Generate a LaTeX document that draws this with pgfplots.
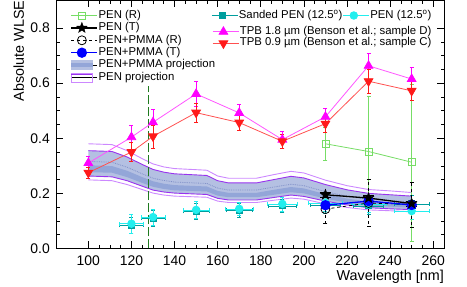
\documentclass[border=0pt]{standalone}
\usepackage{pgfplots}
\pgfplotsset{compat=1.18}
\usepackage{pgfplotstable}
\usepgfplotslibrary{fillbetween}
\usetikzlibrary{plotmarks}
\usepackage{fontspec}
\setmainfont{Liberation Sans}

\definecolor{gR}{HTML}{77DD66}
\definecolor{gLine}{HTML}{1F7A1F}
\definecolor{cyanP}{HTML}{22EEEE}
\definecolor{tealP}{HTML}{009E9E}
\definecolor{magP}{HTML}{FF00FF}
\definecolor{magL}{HTML}{FF55FF}
\definecolor{redP}{HTML}{FF1A1A}
\definecolor{redL}{HTML}{FF5050}
\definecolor{blueP}{HTML}{0000FF}
\definecolor{bandA}{HTML}{B4C0E2}
\definecolor{bandB}{HTML}{93A6D8}
\definecolor{bandDot}{HTML}{8090C8}
\definecolor{vioL}{HTML}{CC88FF}
\definecolor{vioD}{HTML}{9933EE}

\pgfdeclareplotmark{fivestar}{%
  \pgfpathmoveto{\pgfpointpolar{90}{\pgfplotmarksize}}%
  \pgfpathlineto{\pgfpointpolar{126}{0.42\pgfplotmarksize}}%
  \pgfpathlineto{\pgfpointpolar{162}{\pgfplotmarksize}}%
  \pgfpathlineto{\pgfpointpolar{198}{0.42\pgfplotmarksize}}%
  \pgfpathlineto{\pgfpointpolar{234}{\pgfplotmarksize}}%
  \pgfpathlineto{\pgfpointpolar{270}{0.42\pgfplotmarksize}}%
  \pgfpathlineto{\pgfpointpolar{306}{\pgfplotmarksize}}%
  \pgfpathlineto{\pgfpointpolar{342}{0.42\pgfplotmarksize}}%
  \pgfpathlineto{\pgfpointpolar{18}{\pgfplotmarksize}}%
  \pgfpathlineto{\pgfpointpolar{54}{0.42\pgfplotmarksize}}%
  \pgfpathclose
  \pgfusepathqfillstroke}

\pgfplotsset{
  legend image code/.code={%
    \path (0bp,0bp) -- (26bp,0bp);
    \draw[mark repeat=2,mark phase=2,#1] plot coordinates {(0bp,0bp) (10.5bp,0bp) (21bp,0bp)};},
  pmmaleg/.style={legend image code/.code={%
    \path (0bp,0bp) -- (26bp,0bp);
    \fill[bandA] (0bp,-4.5bp) rectangle (21bp,4.5bp);
    \fill[bandB] (0bp,-1.5bp) rectangle (21bp,1.5bp);}},
  penleg/.style={legend image code/.code={%
    \path (0bp,0bp) -- (26bp,0bp);
    \draw[vioL, line width=0.8bp] (0bp,-4.5bp) rectangle (21bp,4.5bp);
    \draw[vioD, line width=0.8bp] (0bp,3bp) -- (21bp,3bp);}},
  rootaxis/.style={
    width=388bp, height=248bp, scale only axis,
    xmin=85, xmax=265, ymin=0, ymax=0.9,
  },
  rootleg/.style={
    legend cell align=left,
    legend style={draw=none, fill=none, inner sep=0pt, outer sep=0pt,
      column sep=0pt, row sep=0pt,
      font=\fontsize{11.4}{13}\selectfont,
      nodes={inner sep=0.6bp, text height=#1, text depth=2.8bp}},
  },
}

\pgfplotstableread{
x    lu    u     d     bt    bb    l     ll
100  0.380 0.355 0.316 0.302 0.277 0.263 0.249
111  0.377 0.352 0.313 0.299 0.275 0.260 0.246
118  0.355 0.332 0.295 0.282 0.259 0.246 0.232
125  0.326 0.305 0.271 0.259 0.238 0.226 0.214
130  0.307 0.287 0.255 0.244 0.224 0.212 0.201
135  0.296 0.277 0.247 0.235 0.216 0.205 0.194
140  0.290 0.271 0.241 0.230 0.211 0.201 0.190
155  0.284 0.265 0.236 0.225 0.207 0.196 0.186
160  0.263 0.246 0.219 0.209 0.192 0.182 0.172
165  0.255 0.238 0.212 0.202 0.186 0.176 0.167
178  0.255 0.238 0.212 0.202 0.186 0.176 0.167
186  0.268 0.250 0.223 0.213 0.195 0.185 0.175
194  0.280 0.262 0.233 0.223 0.204 0.194 0.183
200  0.274 0.256 0.228 0.218 0.200 0.189 0.179
210  0.248 0.232 0.206 0.197 0.181 0.172 0.162
220  0.228 0.213 0.190 0.181 0.166 0.158 0.149
230  0.214 0.200 0.178 0.170 0.156 0.148 0.140
240  0.209 0.195 0.174 0.166 0.152 0.144 0.137
250  0.203 0.190 0.169 0.162 0.148 0.141 0.133
}\band

\begin{document}
\begin{tikzpicture}
\begin{axis}[
  rootaxis,
  axis line style={line width=0.8bp},
  tick align=inside,
  xtick={100,120,...,260}, minor x tick num=3,
  ytick={0,0.2,0.4,0.6,0.8}, minor y tick num=3,
  major tick length=7bp, minor tick length=3.5bp,
  tick style={black, line width=0.6bp},
  /pgf/number format/assume math mode=true,
  every tick label/.append style={font=\fontsize{14}{16}\selectfont},
  yticklabel style={/pgf/number format/fixed, /pgf/number format/fixed zerofill,
     /pgf/number format/precision=1, anchor=east, inner sep=0pt, xshift=-6bp},
  xticklabel style={anchor=north, inner sep=0pt, yshift=-7bp},
  xlabel={Wavelength [nm]},
  ylabel={Absolute WLSE},
  label style={font=\fontsize{14.4}{16}\selectfont, inner sep=0pt},
  xlabel style={at={(axis description cs:1,-0.1129)}, anchor=east},
  ylabel style={at={(axis description cs:-0.0962,1)}, anchor=east},
  rootleg=8.4bp,
  legend style={at={(rel axis cs:0.038,0.9645)}, anchor=north west},
]
\coordinate (BL) at (rel axis cs:0,0);
\coordinate (TR) at (rel axis cs:1,1);

% projections
\addplot[forget plot, name path=U, draw=none] table[x=x,y=u]{\band};
\addplot[forget plot, name path=L, draw=none] table[x=x,y=l]{\band};
\addplot[forget plot, name path=BT, draw=none] table[x=x,y=bt]{\band};
\addplot[forget plot, name path=BB, draw=none] table[x=x,y=bb]{\band};
\addplot[forget plot, bandA] fill between[of=U and L];
\addplot[forget plot, bandB] fill between[of=BT and BB];
\addplot[forget plot, bandDot, densely dotted, line width=0.8bp] table[x=x,y=d]{\band};
\addplot[forget plot, vioD, line width=0.9bp] table[x=x,y=u]{\band};
\addplot[forget plot, vioD, line width=0.9bp] table[x=x,y=l]{\band};
\addplot[forget plot, vioL, line width=0.9bp] table[x=x,y=lu]{\band};
\addplot[forget plot, vioL, line width=0.9bp] table[x=x,y=ll]{\band};

% vertical line
\addplot[forget plot, gLine, line width=1.2bp, dash pattern=on 9bp off 3bp]
  coordinates {(128,0) (128,0.59)};

% Sanded PEN (12.5)
\addplot[forget plot, tealP, only marks, mark=square*, mark size=3bp, line width=0.8bp,
  error bars/.cd, x dir=both, x explicit, y dir=both, y explicit,
  error mark options={rotate=90, mark size=2bp, tealP}]
coordinates {
(120,0.085) +- (5.5,0.03)
(130,0.110) +- (5.5,0.03)
(150,0.135) +- (6,0.03)
(170,0.140) +- (6,0.025)
(190,0.155) +- (6.5,0.025)
(210,0.158) +- (7,0.03)
(230,0.155) +- (7,0.03)
(250,0.162) +- (8,0.03)
};
% PEN (12.5)
\addplot[forget plot, cyanP, only marks, mark=*, mark size=3.8bp, line width=0.8bp,
  error bars/.cd, x dir=both, x explicit, y dir=both, y explicit,
  error mark options={rotate=90, mark size=2bp, cyanP}]
coordinates {
(120,0.090) +- (5.5,0.034)
(130,0.114) +- (5.5,0.03)
(150,0.140) +- (6,0.03)
(170,0.144) +- (6.5,0.025)
(190,0.162) +- (7,0.025)
(210,0.166) +- (8,0.03)
(230,0.160) +- (8,0.03)
(250,0.136) +- (8,0.03)
};

% PEN (R)
\addplot[forget plot, gR, mark=square, mark size=3.5bp, line width=0.8bp,
  error bars/.cd, y dir=both, y explicit,
  error mark options={rotate=90, mark size=2bp, gR}]
coordinates {
(210,0.380) +- (0,0.06)
(230,0.352) +- (0,0.20)
(250,0.313) +- (0,0.285)
};

% TPB 1.8
\addplot[forget plot, magL, mark=triangle*, mark options={magP, fill=magP}, mark size=5bp, line width=0.8bp,
  error bars/.cd, y dir=both, y explicit,
  error bar style={magP},
  error mark options={rotate=90, mark size=2bp, magP}]
coordinates {
(100,0.310) +- (0,0.025)
(120,0.404) +- (0,0.043)
(130,0.458) +- (0,0.046)
(150,0.561) +- (0,0.046)
(170,0.492) +- (0,0.031)
(190,0.395) +- (0,0.03)
(210,0.478) +- (0,0.03)
(230,0.663) +- (0,0.047)
(250,0.615) +- (0,0.044)
};
% TPB 0.9
\addplot[forget plot, redL, mark=triangle*, mark options={redP, fill=redP, rotate=180}, mark size=5bp, line width=0.8bp,
  error bars/.cd, y dir=both, y explicit,
  error bar style={redP},
  error mark options={rotate=90, mark size=2bp, redP}]
coordinates {
(100,0.275) +- (0,0.02)
(120,0.350) +- (0,0.035)
(130,0.407) +- (0,0.042)
(150,0.493) +- (0,0.036)
(170,0.457) +- (0,0.028)
(190,0.389) +- (0,0.025)
(210,0.453) +- (0,0.03)
(230,0.607) +- (0,0.045)
(250,0.572) +- (0,0.035)
};

% PEN+PMMA (R)
\addplot[forget plot, black, dashed, mark=o, mark options={solid}, mark size=4.5bp, line width=0.8bp,
  error bars/.cd, y dir=both, y explicit,
  error mark options={rotate=90, mark size=2bp, black}]
coordinates {
(210,0.143) +- (0,0.05)
(230,0.165) +- (0,0.085)
(250,0.160) +- (0,0.082)
};
% PEN+PMMA (T)
\addplot[forget plot, blueP, mark=*, mark size=4.5bp, line width=1.3bp,
  error bars/.cd, y dir=both, y explicit]
coordinates {
(210,0.157) +- (0,0.01)
(230,0.172) +- (0,0.01)
(250,0.158) +- (0,0.01)
};
% PEN (T)
\addplot[forget plot, black, mark=fivestar, mark options={fill=black, line width=0.4bp}, mark size=5.5bp, line width=1.3bp,
  error bars/.cd, y dir=both, y explicit]
coordinates {
(210,0.195) +- (0,0.01)
(230,0.183) +- (0,0.01)
(250,0.163) +- (0,0.01)
};

% legend (left block)
\addlegendimage{gR, mark=square, mark size=3.5bp, line width=0.8bp}
\addlegendentry{PEN (R)}
\addlegendimage{black, mark=fivestar, mark options={fill=black, line width=0.4bp}, mark size=5.5bp, line width=1.3bp}
\addlegendentry{PEN (T)}
\addlegendimage{black, dashed, mark=o, mark options={solid}, mark size=4.5bp, line width=0.8bp}
\addlegendentry{PEN+PMMA (R)}
\addlegendimage{blueP, mark=*, mark size=4.5bp, line width=1.3bp}
\addlegendentry{PEN+PMMA (T)}
\addlegendimage{pmmaleg}
\addlegendentry{PEN+PMMA projection}
\addlegendimage{penleg}
\addlegendentry{PEN projection}
\end{axis}

% legend (right, first row)
\begin{axis}[
  rootaxis, hide axis,
  rootleg=8.4bp,
  legend columns=2,
  legend style={at={(rel axis cs:0.4008,0.9645)}, anchor=north west},
]
\addlegendimage{tealP, mark=square*, mark size=3bp, line width=0.8bp}
\addlegendentry{Sanded PEN (12.5\textsuperscript{o})}
\addlegendimage{cyanP, mark=*, mark size=3.8bp, line width=0.8bp}
\addlegendentry{PEN (12.5\textsuperscript{o})}
\end{axis}

% legend (right, TPB rows)
\begin{axis}[
  rootaxis, hide axis,
  rootleg=7.6bp,
  legend style={at={(rel axis cs:0.4034,0.8972)}, anchor=north west},
]
\addlegendimage{magL, mark=triangle*, mark options={magP, fill=magP}, mark size=5bp, line width=0.8bp}
\addlegendentry{TPB 1.8 µm (Benson et al.; sample D)}
\addlegendimage{redL, mark=triangle*, mark options={redP, fill=redP, rotate=180}, mark size=5bp, line width=0.8bp}
\addlegendentry{TPB 0.9 µm (Benson et al.; sample C)}
\end{axis}

\pgfresetboundingbox
\path[use as bounding box] ([xshift=-56bp,yshift=-38bp]BL) rectangle ([xshift=23bp,yshift=0.5bp]TR);
\end{tikzpicture}
\end{document}
